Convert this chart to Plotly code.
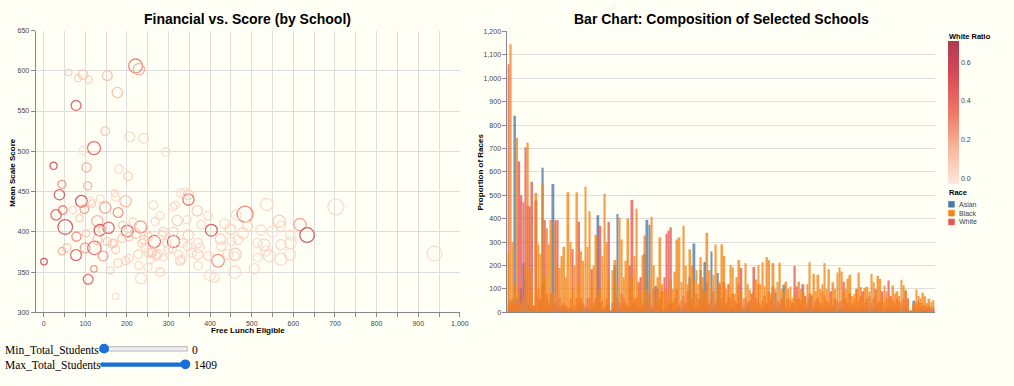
import plotly.graph_objects as go

W, H = 1014, 386

# ---------------- scatter data (Financial vs. Score) ----------------
free_lunch = [60, 83, 95, 108, 78, 153, 177, 221, 229, 148, 207, 240, 121, 95, 294, 24, 103, 181, 203, 44,
              106, 38, 171, 330, 348, 348, 91, 197, 113, 136, 148, 46, 98, 264, 310, 369, 179, 30, 484, 536,
              702, 129, 268, 321, 566, 616, 52, 156, 233, 403, 201, 633, 1, 44, 78, 100, 122, 143, 165, 312,
              107, 121, 173, 179, 197, 234, 280, 328, 370, 399, 419, 460, 459, 506, 530, 542, 570, 592, 939, 260,
              79, 135, 266, 348, 425, 449, 479, 593, 251, 371, 411, 229, 205, 332, 270, 227, 173, 252, 262, 274,
              300, 324, 355, 375, 395, 443, 514, 570, 550, 522, 490, 467, 451, 427, 371, 346, 335, 296, 284, 252,
              241, 221, 205, 189, 169, 153, 129, 102, 86, 70, 116, 173, 316, 340, 379, 288, 312, 435, 463, 594,
              570, 534, 459, 514, 244, 258, 288, 310, 236, 190, 215, 280, 345, 395, 160, 140, 56]
mean_score = [598, 591, 595, 589, 557, 594, 573, 606, 602, 525, 518, 516, 504, 501, 499, 482, 480, 478, 469, 459,
              457, 446, 448, 448, 446, 440, 438, 438, 438, 441, 430, 427, 428, 433, 431, 426, 424, 421, 422, 434,
              431, 413, 413, 414, 413, 409, 406, 405, 406, 402, 401, 396, 363, 376, 371, 380, 380, 370, 385, 388,
              341, 354, 320, 361, 364, 342, 350, 364, 372, 346, 364, 372, 350, 354, 384, 370, 366, 372, 373, 374,
              394, 402, 388, 396, 391, 403, 398, 386, 356, 358, 343, 358, 367, 366, 370, 372, 378, 374, 376, 372,
              378, 372, 374, 380, 370, 372, 368, 384, 400, 402, 407, 390, 388, 382, 386, 382, 386, 386, 396, 394,
              390, 398, 394, 392, 386, 388, 390, 398, 417, 427, 435, 443, 433, 449, 409, 400, 400, 410, 421, 396,
              407, 376, 370, 386, 380, 366, 368, 378, 386, 408, 412, 420, 415, 420, 352, 402, 380]
total_students = [200, 250, 400, 250, 450, 450, 500, 900, 600, 350, 450, 450, 800, 300, 350, 250, 400, 350, 350, 300,
                  300, 500, 250, 350, 450, 600, 650, 600, 300, 300, 600, 350, 350, 350, 300, 500, 450, 500, 1200, 700,
                  1200, 600, 300, 500, 700, 700, 1000, 600, 700, 650, 650, 1000, 200, 250, 550, 450, 850, 450, 350, 700,
                  450, 200, 200, 350, 300, 550, 350, 400, 500, 550, 750, 700, 700, 500, 600, 650, 700, 600, 1000, 400,
                  400, 600, 700, 500, 500, 500, 550, 600, 300, 350, 400, 300, 300, 350, 350, 350, 300, 400, 350, 350,
                  350, 300, 400, 400, 350, 450, 350, 500, 550, 500, 450, 400, 350, 400, 400, 350, 350, 300, 350, 350,
                  350, 450, 350, 350, 300, 300, 400, 250, 250, 250, 250, 300, 300, 400, 350, 400, 400, 450, 450, 500,
                  450, 450, 400, 400, 300, 300, 250, 250, 300, 300, 300, 300, 300, 350, 250, 250, 300]
white_ratio = [0.08, 0.08, 0.12, 0.08, 0.5, 0.15, 0.15, 0.35, 0.2, 0.12, 0.05, 0.05, 0.45, 0.03, 0.03, 0.6, 0.2, 0.05, 0.08, 0.3,
               0.2, 0.55, 0.05, 0.04, 0.1, 0.45, 0.6, 0.15, 0.05, 0.05, 0.25, 0.35, 0.25, 0.05, 0.05, 0.1, 0.3, 0.5, 0.35, 0.05,
               0.04, 0.2, 0.06, 0.1, 0.1, 0.25, 0.55, 0.5, 0.3, 0.55, 0.55, 0.6, 0.6, 0.2, 0.5, 0.25, 0.45, 0.25, 0.1, 0.55,
               0.5, 0.3, 0.03, 0.08, 0.08, 0.05, 0.08, 0.08, 0.05, 0.04, 0.3, 0.08, 0.04, 0.04, 0.05, 0.05, 0.05, 0.05, 0.04, 0.15,
               0.3, 0.55, 0.5, 0.1, 0.1, 0.08, 0.05, 0.05, 0.04, 0.05, 0.05, 0.05, 0.06, 0.05, 0.06, 0.06, 0.1, 0.06, 0.06, 0.08,
               0.06, 0.05, 0.05, 0.05, 0.06, 0.05, 0.04, 0.05, 0.04, 0.04, 0.05, 0.05, 0.05, 0.06, 0.06, 0.06, 0.06, 0.08, 0.08, 0.08,
               0.1, 0.12, 0.1, 0.1, 0.1, 0.12, 0.15, 0.1, 0.08, 0.05, 0.1, 0.05, 0.05, 0.03, 0.05, 0.08, 0.08, 0.06, 0.04, 0.04,
               0.04, 0.04, 0.05, 0.04, 0.06, 0.05, 0.06, 0.05, 0.08, 0.1, 0.08, 0.06, 0.06, 0.05, 0.08, 0.1, 0.15]

# ---------------- bar data (Composition of Selected Schools) ----------------
asian = [30, 50, 30, 840, 60, 60, 100, 210, 140, 40,
         30, 20, 10, 20, 60, 40, 618, 10, 60, 20,
         30, 548, 40, 10, 20, 10, 15, 10, 10, 20,
         15, 10, 10, 30, 20, 10, 20, 15, 15, 10,
         20, 20, 415, 40, 10, 10, 30, 30, 5, 10,
         200, 420, 20, 15, 30, 20, 20, 10, 30, 40,
         15, 20, 10, 20, 250, 395, 374, 20, 10, 113,
         30, 20, 15, 10, 20, 30, 40, 10, 20, 15,
         30, 10, 20, 30, 10, 150, 20, 294, 20, 15,
         180, 20, 215, 30, 20, 260, 20, 25, 168, 10,
         20, 10, 30, 60, 15, 20, 10, 25, 40, 15,
         10, 20, 30, 15, 10, 20, 25, 40, 10, 15,
         20, 30, 15, 10, 20, 85, 15, 10, 30, 118,
         15, 10, 20, 40, 15, 10, 20, 30, 10, 15,
         20, 60, 10, 15, 25, 20, 10, 30, 15, 10,
         20, 10, 15, 30, 10, 20, 15, 10, 25, 15,
         10, 20, 30, 15, 10, 20, 15, 10, 25, 20,
         10, 15, 20, 10, 15, 30, 10, 20, 15, 10,
         20, 10, 15, 25, 10, 20, 15, 10, 0, 0,
         50, 10, 15, 20, 10, 15, 10, 20, 15, 10]
black = [250, 1145, 300, 120, 745, 90, 40, 60, 200, 725,
         180, 100, 30, 510, 290, 250, 548, 155, 359, 290,
         394, 80, 380, 190, 190, 240, 280, 150, 513, 300,
         100, 200, 513, 120, 260, 220, 537, 280, 432, 120,
         200, 331, 70, 100, 240, 506, 300, 150, 5, 180,
         223, 130, 405, 311, 150, 220, 400, 100, 150, 240,
         443, 120, 80, 244, 328, 100, 160, 408, 200, 60,
         150, 320, 120, 90, 100, 60, 140, 100, 174, 311,
         320, 130, 370, 200, 120, 269, 200, 130, 180, 120,
         236, 150, 90, 340, 180, 110, 160, 290, 100, 130,
         290, 240, 100, 120, 202, 193, 80, 150, 223, 90,
         60, 210, 120, 97, 50, 90, 140, 202, 120, 214,
         110, 236, 223, 80, 210, 100, 130, 212, 100, 80,
         131, 100, 110, 60, 80, 60, 131, 100, 89, 60,
         120, 214, 80, 164, 90, 161, 100, 120, 210, 100,
         184, 60, 128, 100, 170, 192, 174, 90, 100, 144,
         160, 70, 80, 100, 170, 108, 60, 105, 109, 90,
         164, 128, 70, 156, 143, 60, 114, 90, 60, 60,
         114, 80, 90, 70, 139, 116, 97, 50, 5, 5,
         40, 97, 70, 60, 84, 69, 40, 58, 45, 52]
white = [1060, 40, 60, 40, 40, 645, 500, 470, 705, 455,
         453, 558, 30, 478, 100, 60, 120, 394, 80, 40,
         80, 30, 394, 394, 60, 30, 40, 30, 20, 60,
         270, 30, 60, 387, 60, 40, 30, 60, 60, 184,
         40, 60, 40, 370, 50, 20, 60, 387, 5, 40,
         30, 60, 40, 80, 60, 40, 30, 200, 480, 60,
         60, 130, 150, 40, 30, 40, 80, 30, 100, 30,
         100, 60, 90, 150, 336, 349, 363, 40, 60, 100,
         30, 50, 70, 40, 90, 40, 60, 30, 80, 60,
         40, 100, 50, 130, 40, 60, 90, 40, 60, 120,
         60, 130, 40, 120, 60, 80, 50, 40, 120, 189,
         30, 60, 40, 50, 80, 194, 60, 120, 30, 50,
         70, 40, 90, 60, 110, 30, 50, 40, 60, 40,
         30, 60, 50, 40, 198, 110, 60, 50, 120, 70,
         40, 80, 70, 30, 50, 60, 40, 90, 70, 50,
         40, 90, 30, 60, 50, 40, 50, 130, 60, 40,
         80, 40, 60, 100, 50, 70, 90, 40, 60, 70,
         40, 60, 100, 40, 50, 90, 40, 60, 136, 70,
         50, 40, 60, 50, 40, 60, 90, 60, 5, 5,
         30, 40, 50, 40, 30, 30, 20, 30, 20, 25]
schools = ["School %d" % (i + 1) for i in range(len(asian))]

races = ["Asian", "Black", "White"]
race_colors = ["#4c78a8", "#f58518", "#e45756"]
draw_order = ["Asian", "White", "Black"]

x_tick_vals = list(range(0, 1001, 50))
y_tick_vals = list(range(300, 651, 50))
bar_tick_vals = list(range(0, 1201, 100))
ratio_ticks = [0.0, 0.2, 0.4, 0.6]
slider_min, slider_max = 0, 1409

# ---------------- helpers for pixel placement ----------------
def fx(p):
    return p / W

def fy(p):
    return 1 - p / H

FONT = "Liberation Sans, Arial, sans-serif"
SERIF = "Liberation Serif, Times New Roman, serif"
TICK_FONT = dict(family=FONT, size=7, color="#444")
GRID = "#dddddd"
AXIS = "#888888"

reds = [[0.0, "#fde8dc"], [0.25, "#f8b79c"], [0.5, "#ee7766"], [0.75, "#d94c57"], [1.0, "#b13a50"]]

fig = go.Figure()

sizeref = 2.0 * max(total_students) / (16 ** 2)
fig.add_trace(go.Scatter(
    x=free_lunch, y=mean_score, mode="markers", xaxis="x", yaxis="y", showlegend=False,
    marker=dict(
        symbol="circle-open", size=total_students, sizemode="area", sizeref=sizeref, sizemin=3,
        color=white_ratio, colorscale=reds, cmin=-0.025, cmax=0.71,
        line=dict(width=1.3), opacity=0.85,
        colorbar=dict(
            x=fx(956), xanchor="left", xpad=0, y=fy(183), yanchor="bottom", ypad=0,
            len=143, lenmode="pixels", thickness=11, outlinewidth=0,
            tickvals=ratio_ticks, tickformat=".1f", ticks="", tickfont=dict(family=FONT, size=7, color="#444"),
        ),
    ),
))

race_data = {"Asian": asian, "Black": black, "White": white}
race_color = dict(zip(races, race_colors))
for name in draw_order:
    fig.add_trace(go.Bar(
        x=schools, y=race_data[name], name=name, xaxis="x2", yaxis="y2", showlegend=False,
        marker=dict(color=race_color[name], line=dict(width=0)), opacity=0.78,
    ))

shapes = []
annotations = []

# titles
annotations.append(dict(text="<b>Financial vs. Score (by School)</b>", x=fx(250), y=fy(15),
                        xref="paper", yref="paper", xanchor="center", yanchor="middle", showarrow=False,
                        font=dict(family=FONT, size=14, color="#000")))
annotations.append(dict(text="<b>Bar Chart: Composition of Selected Schools</b>", x=fx(728), y=fy(15),
                        xref="paper", yref="paper", xanchor="center", yanchor="middle", showarrow=False,
                        font=dict(family=FONT, size=14, color="#000")))
# axis titles
annotations.append(dict(text="<b>Free Lunch Eligible</b>", x=fx(250), y=fy(333), xref="paper", yref="paper",
                        xanchor="center", yanchor="middle", showarrow=False, font=dict(family=FONT, size=8, color="#000")))
annotations.append(dict(text="<b>Mean Scale Score</b>", x=fx(13), y=fy(171), xref="paper", yref="paper",
                        xanchor="center", yanchor="middle", showarrow=False, textangle=-90,
                        font=dict(family=FONT, size=8, color="#000")))
annotations.append(dict(text="<b>Proportion of Races</b>", x=fx(485), y=fy(171), xref="paper", yref="paper",
                        xanchor="center", yanchor="middle", showarrow=False, textangle=-90,
                        font=dict(family=FONT, size=8, color="#000")))
# color legend title
annotations.append(dict(text="<b>White Ratio</b>", x=fx(955), y=fy(33), xref="paper", yref="paper",
                        xanchor="left", yanchor="middle", showarrow=False, font=dict(family=FONT, size=7.5, color="#000")))
# race legend
annotations.append(dict(text="<b>Race</b>", x=fx(955), y=fy(192), xref="paper", yref="paper",
                        xanchor="left", yanchor="middle", showarrow=False, font=dict(family=FONT, size=7.5, color="#000")))
for k, name in enumerate(races):
    col = race_color[name]
    cy = 204 + 9 * k
    shapes.append(dict(type="rect", xref="paper", yref="paper", x0=fx(957), x1=fx(963), y0=fy(cy + 3), y1=fy(cy - 3),
                       fillcolor=col, line=dict(width=0.5, color=col)))
    annotations.append(dict(text=name, x=fx(966), y=fy(cy), xref="paper", yref="paper", xanchor="left",
                            yanchor="middle", showarrow=False, font=dict(family=FONT, size=7, color="#444")))

# slider widgets (drawn)
BLUE = "#1871d8"
annotations.append(dict(text="Min_Total_Students", x=fx(3), y=fy(352), xref="paper", yref="paper", xanchor="left",
                        yanchor="middle", showarrow=False, font=dict(family=SERIF, size=11.5, color="#000")))
annotations.append(dict(text="Max_Total_Students", x=fx(3), y=fy(368), xref="paper", yref="paper", xanchor="left",
                        yanchor="middle", showarrow=False, font=dict(family=SERIF, size=11.5, color="#000")))
annotations.append(dict(text=str(slider_min), x=fx(192), y=fy(352), xref="paper", yref="paper", xanchor="left",
                        yanchor="middle", showarrow=False, font=dict(family=SERIF, size=11.5, color="#000")))
annotations.append(dict(text=str(slider_max), x=fx(194), y=fy(368), xref="paper", yref="paper", xanchor="left",
                        yanchor="middle", showarrow=False, font=dict(family=SERIF, size=11.5, color="#000")))
# min track
shapes.append(dict(type="rect", xref="paper", yref="paper", x0=fx(101), x1=fx(189), y0=fy(353.5), y1=fy(349),
                   fillcolor="#efefef", line=dict(color="#b8b8b8", width=1)))
shapes.append(dict(type="circle", xref="paper", yref="paper", x0=fx(100), x1=fx(110), y0=fy(356), y1=fy(346),
                   fillcolor=BLUE, line=dict(width=0)))
# max track
shapes.append(dict(type="rect", xref="paper", yref="paper", x0=fx(103), x1=fx(189), y0=fy(369.5), y1=fy(365),
                   fillcolor=BLUE, line=dict(width=0)))
shapes.append(dict(type="circle", xref="paper", yref="paper", x0=fx(101), x1=fx(105.5), y0=fy(369.5), y1=fy(365),
                   fillcolor=BLUE, line=dict(width=0)))
shapes.append(dict(type="circle", xref="paper", yref="paper", x0=fx(182), x1=fx(192), y0=fy(372), y1=fy(362),
                   fillcolor=BLUE, line=dict(width=0)))

fig.update_layout(
    width=W, height=H, autosize=False,
    margin=dict(l=0, r=0, t=0, b=0),
    paper_bgcolor="#fffff6", plot_bgcolor="rgba(0,0,0,0)",
    barmode="overlay", bargap=0.1,
    font=dict(family=FONT, size=7, color="#444"),
    xaxis=dict(domain=[fx(36), fx(464)], range=[-19, 1000], tickvals=x_tick_vals,
               ticktext=[("{:,}".format(v) if v % 100 == 0 else "") for v in x_tick_vals],
               showgrid=True, gridcolor=GRID, gridwidth=1, zeroline=False,
               showline=True, linecolor=AXIS, linewidth=1, ticks="outside", ticklen=4, tickcolor=AXIS,
               tickfont=TICK_FONT, anchor="y"),
    yaxis=dict(domain=[fy(314), fy(27)], range=[300, 650], tickvals=y_tick_vals,
               showgrid=True, gridcolor=GRID, gridwidth=1, zeroline=False,
               showline=True, linecolor=AXIS, linewidth=1, ticks="outside", ticklen=4, tickcolor=AXIS,
               tickfont=TICK_FONT, anchor="x"),
    xaxis2=dict(domain=[fx(512), fx(943)], type="category", categoryorder="array", categoryarray=schools,
                range=[-0.5, len(schools) - 0.5], showticklabels=False, ticks="", showgrid=False,
                zeroline=False, showline=True, linecolor=AXIS, linewidth=1, anchor="y2"),
    yaxis2=dict(domain=[fy(314), fy(28)], range=[0, 1200], tickvals=bar_tick_vals, tickformat=",",
                showgrid=True, gridcolor=GRID, gridwidth=1, zeroline=False,
                showline=True, linecolor=AXIS, linewidth=1, ticks="outside", ticklen=4, tickcolor=AXIS,
                tickfont=TICK_FONT, anchor="x2"),
    shapes=shapes, annotations=annotations,
)

fig.write_html("out.html", config={"displayModeBar": False},
               post_script="document.body.style.margin='0px'; document.body.style.overflow='hidden';")
